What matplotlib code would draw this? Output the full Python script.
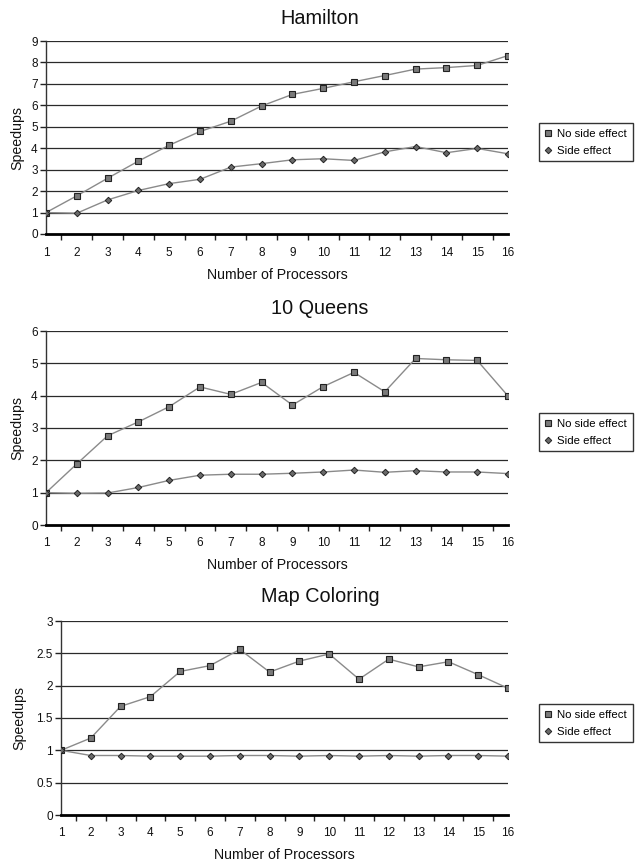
import matplotlib
matplotlib.use("Agg")
import matplotlib.pyplot as plt
import numpy as np

plt.rcParams['font.family'] = ['Liberation Sans', 'DejaVu Sans']

processors = list(range(1, 17))

hamilton_no_side = [1.0, 1.78, 2.60, 3.40, 4.14, 4.78, 5.26, 5.97, 6.51, 6.79, 7.10, 7.39, 7.69, 7.76, 7.86, 8.32]
hamilton_side = [1.0, 0.97, 1.59, 2.03, 2.35, 2.55, 3.12, 3.28, 3.46, 3.51, 3.43, 3.83, 4.08, 3.79, 3.99, 3.74]

queens_no_side = [1.0, 1.89, 2.76, 3.19, 3.66, 4.27, 4.04, 4.41, 3.71, 4.28, 4.72, 4.12, 5.15, 5.11, 5.09, 3.99]
queens_side = [1.0, 0.98, 0.99, 1.16, 1.38, 1.54, 1.57, 1.57, 1.60, 1.64, 1.70, 1.63, 1.68, 1.64, 1.64, 1.59]

map_no_side = [1.0, 1.19, 1.68, 1.83, 2.22, 2.31, 2.56, 2.21, 2.38, 2.49, 2.10, 2.41, 2.29, 2.37, 2.17, 1.96]
map_side = [1.0, 0.92, 0.92, 0.91, 0.91, 0.91, 0.92, 0.92, 0.91, 0.92, 0.91, 0.92, 0.91, 0.92, 0.92, 0.91]

series_labels = ["No side effect", "Side effect"]

W, H = 637, 867
fig = plt.figure(figsize=(W / 100, H / 100), dpi=100)


def px_axes(left, right, top, bottom):
    return [left / W, 1 - bottom / H, (right - left) / W, (bottom - top) / H]


panels = [
    dict(title="Hamilton", no_side=hamilton_no_side, side=hamilton_side,
         ymax=9, ystep=1, box=(46, 508, 41, 234), title_y=18, xlabel_y=275,
         legend_top=123, ylabel_x=17),
    dict(title="10 Queens", no_side=queens_no_side, side=queens_side,
         ymax=6, ystep=1, box=(46, 508, 331, 525), title_y=308, xlabel_y=565,
         legend_top=413, ylabel_x=17),
    dict(title="Map Coloring", no_side=map_no_side, side=map_side,
         ymax=3, ystep=0.5, box=(61, 508, 621, 815), title_y=597, xlabel_y=855,
         legend_top=704, ylabel_x=19),
]

for p in panels:
    left, right, top, bottom = p["box"]
    ax = fig.add_axes(px_axes(left, right, top, bottom))

    yticks = np.arange(0, p["ymax"] + p["ystep"] / 2, p["ystep"])
    for yv in yticks[1:]:
        ax.axhline(yv, color="#2a2a2a", lw=0.9, zorder=1)

    ax.plot(processors, p["no_side"], color="#8a8a8a", lw=1.0, marker="s",
            markersize=4.3, markerfacecolor="#7a7a7a", markeredgecolor="#222222",
            markeredgewidth=0.8, label=series_labels[0], zorder=3)
    ax.plot(processors, p["side"], color="#8a8a8a", lw=1.0, marker="D",
            markersize=3.3, markerfacecolor="#6a6a6a", markeredgecolor="#222222",
            markeredgewidth=0.7, label=series_labels[1], zorder=4)

    ax.set_xlim(1, 16)
    ax.set_ylim(0, p["ymax"])
    ax.set_yticks(yticks)
    if p["ystep"] < 1:
        ax.set_yticklabels([("%g" % v) for v in yticks])
    ax.set_xticks(processors)
    ax.set_xticks([1] + [i + 0.5 for i in range(1, 16)] + [16], minor=True)
    ax.tick_params(axis="x", which="major", length=0, pad=9, labelsize=8.5, colors="#111111")
    ax.tick_params(axis="x", which="minor", length=4, width=1.0, color="#222222", direction="out")
    ax.tick_params(axis="y", length=4, width=1.0, color="#222222", labelsize=8.5,
                   labelcolor="#111111", pad=2)

    for s in ("top", "right"):
        ax.spines[s].set_visible(False)
    ax.spines["bottom"].set_linewidth(2.0)
    ax.spines["bottom"].set_color("black")
    ax.spines["left"].set_linewidth(1.0)
    ax.spines["left"].set_color("#333333")
    ax.spines["bottom"].set_zorder(5)

    fig.text(p["ylabel_x"] / W, 1 - 0.5 * (top + bottom) / H, "Speedups", rotation=90,
             ha="center", va="center", fontsize=10.2, color="#111111")
    fig.text(0.5 * (left + right) / W, 1 - p["xlabel_y"] / H, "Number of Processors",
             ha="center", va="center", fontsize=10.2, color="#111111")
    fig.text(320 / W, 1 - p["title_y"] / H, p["title"], ha="center", va="center",
             fontsize=14.3, color="#111111")

    leg = ax.legend(loc="upper left", bbox_to_anchor=(539 / W, 1 - p["legend_top"] / H),
                    bbox_transform=fig.transFigure, fontsize=8.2, frameon=True,
                    fancybox=False, edgecolor="black", borderpad=0.5,
                    handlelength=0.6, handletextpad=0.5, labelspacing=0.6,
                    borderaxespad=0)
    leg.get_frame().set_linewidth(1.0)
    for h in leg.legend_handles:
        h.set_linestyle("none")

fig.savefig("out.png", dpi=100)
